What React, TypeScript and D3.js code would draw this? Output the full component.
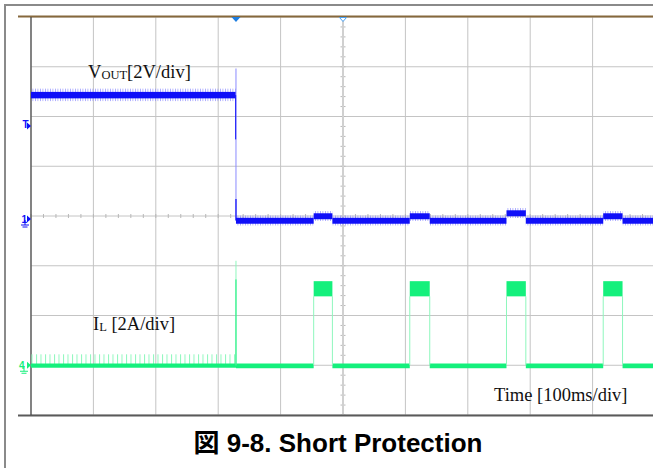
import * as d3 from "d3"

// time axis: 100 ms/div, 10 div
const timeTicks = d3.range(0, 1001, 100)
// vertical: 8 div
const rowTicks = d3.range(0, 9)

// trace events (ms)
const shortTime = 328.5
const hiccupStarts = [453, 607, 762, 917]
const hiccupEnds = [483, 639, 793, 948]

// VOUT levels (V), 2 V/div
const voutHigh = 4.98
const voutShorted = -0.06
const voutBumps = [0.12, 0.12, 0.24, 0.12]
const voutSpikePeak = 6.05

// IL levels (A), 2 A/div
const ilIdle = 0
const ilRipplePeak = 0.44
const ilPulseTop = 3.38
const ilPulseBottom = 2.77
const ilSpikePeak = 4.2
const ilSpikeBright = 3.45

const W = 653
const H = 468
const left = 31
const right = 655
const top = 17
const bottom = 415
const divH = (bottom - top) / 8

const BLUE = "#0f0ff8"
const BLUE_LIGHT = "#8a8aff"
const GREEN = "#14f07c"
const GREEN_LIGHT = "#8ef7bd"

export default function App() {
  const x = d3.scaleLinear().domain([0, 1000]).range([left, right])
  const row = d3.scaleLinear().domain([0, 8]).range([top, bottom])
  const gndV = row(4) + 3
  const gndI = row(7)
  const yV = d3.scaleLinear().domain([0, 2]).range([gndV, gndV - divH])
  const yI = d3.scaleLinear().domain([0, 2]).range([gndI, gndI - divH])

  // VOUT low segments after the short
  const vSegs: { t0: number; t1: number; v: number }[] = []
  let t = shortTime
  hiccupStarts.forEach((s, i) => {
    vSegs.push({ t0: t, t1: s, v: voutShorted })
    vSegs.push({ t0: s, t1: hiccupEnds[i], v: voutBumps[i] })
    t = hiccupEnds[i]
  })
  vSegs.push({ t0: t, t1: 1000, v: voutShorted })

  const iLow: { t0: number; t1: number }[] = []
  let ti = shortTime
  hiccupStarts.forEach((s, i) => {
    iLow.push({ t0: ti, t1: s })
    ti = hiccupEnds[i]
  })
  iLow.push({ t0: ti, t1: 1000 })

  const cx = x(500)
  const cy = row(4)
  const minor = d3.range(0, 51).map((k) => k / 5)

  return (
    <svg width={W} height={H} style={{ position: "absolute", left: 0, top: 0, background: "#fff" }}>
      <defs>
        <pattern id="fuzzB" width="2.5" height="10" patternUnits="userSpaceOnUse">
          <rect x="0" y="0" width="0.8" height="10" fill={BLUE_LIGHT} opacity="0.8" />
        </pattern>
        <pattern id="fuzzG" width="4.5" height="12" patternUnits="userSpaceOnUse">
          <rect x="0" y="0" width="1" height="12" fill={GREEN_LIGHT} />
        </pattern>
        <clipPath id="plotClip">
          <rect x={left} y={top} width={W - left} height={bottom - top} />
        </clipPath>
      </defs>

      {/* outer frame */}
      <line x1={5} x2={W} y1={5} y2={5} stroke="#8a8a8a" strokeWidth={2} />
      <line x1={5} x2={5} y1={4} y2={H} stroke="#8a8a8a" strokeWidth={2} />

      {/* grid */}
      <g stroke="#c4c4c4" strokeWidth={1}>
        {timeTicks.map((d) => (
          <line key={"v" + d} x1={x(d)} x2={x(d)} y1={top} y2={bottom} />
        ))}
        {rowTicks.map((d) => (
          <line key={"h" + d} x1={left} x2={W} y1={row(d)} y2={row(d)} />
        ))}
      </g>
      <g stroke="#b8b8b8" strokeWidth={1}>
        {minor.map((k) => (
          <line key={"mx" + k} x1={x(k * 100)} x2={x(k * 100)} y1={cy - 2} y2={cy + 2} />
        ))}
        {d3.range(0, 41).map((k) => (
          <line key={"my" + k} x1={cx - 2.5} x2={cx + 2.5} y1={row(k / 5)} y2={row(k / 5)} />
        ))}
      </g>
      <line x1={cx} x2={cx} y1={top} y2={bottom} stroke="#d0d0d0" strokeWidth={2} />

      {/* plot border */}
      <line x1={18} x2={W} y1={top - 0.5} y2={top - 0.5} stroke="#86683c" strokeWidth={2} />
      <line x1={18} x2={W} y1={bottom + 0.5} y2={bottom + 0.5} stroke="#5a5a5a" strokeWidth={2} />
      <line x1={left} x2={left} y1={top} y2={bottom} stroke="#444" strokeWidth={1.2} />

      <g clipPath="url(#plotClip)">
        {/* IL trace */}
        <rect x={x(0)} y={yI(ilRipplePeak)} width={x(shortTime) - x(0)} height={yI(ilIdle) - yI(ilRipplePeak)} fill="url(#fuzzG)" />
        <rect x={x(0)} y={yI(ilIdle + 0.07)} width={x(shortTime) - x(0)} height={yI(-0.1) - yI(0.07)} fill={GREEN} />
        {iLow.map((s, i) => (
          <rect key={"il" + i} x={x(s.t0)} y={yI(ilIdle + 0.07)} width={x(s.t1) - x(s.t0)} height={yI(-0.12) - yI(0.07)} fill={GREEN} />
        ))}
        <line x1={x(shortTime)} x2={x(shortTime)} y1={yI(ilSpikePeak)} y2={yI(ilIdle)} stroke={GREEN_LIGHT} strokeWidth={1} />
        <line x1={x(shortTime)} x2={x(shortTime)} y1={yI(ilSpikeBright)} y2={yI(ilIdle)} stroke={GREEN} strokeWidth={1} />
        {hiccupStarts.map((s, i) => (
          <g key={"p" + i}>
            <line x1={x(s)} x2={x(s)} y1={yI(ilPulseBottom)} y2={yI(ilIdle)} stroke={GREEN_LIGHT} strokeWidth={1} />
            <line x1={x(hiccupEnds[i])} x2={x(hiccupEnds[i])} y1={yI(ilPulseBottom)} y2={yI(ilIdle)} stroke={GREEN_LIGHT} strokeWidth={1} />
            <rect x={x(s)} y={yI(ilPulseTop)} width={x(hiccupEnds[i]) - x(s)} height={yI(ilPulseBottom) - yI(ilPulseTop)} fill={GREEN} />
          </g>
        ))}

        {/* VOUT trace */}
        <rect x={x(0)} y={yV(voutHigh + 0.26)} width={x(shortTime) - x(0)} height={yV(voutHigh - 0.24) - yV(voutHigh + 0.26)} fill="url(#fuzzB)" />
        <rect x={x(0)} y={yV(voutHigh + 0.13)} width={x(shortTime) - x(0)} height={yV(voutHigh - 0.13) - yV(voutHigh + 0.13)} fill={BLUE} />
        <line x1={x(shortTime)} x2={x(shortTime)} y1={yV(voutSpikePeak)} y2={yV(voutShorted)} stroke={BLUE_LIGHT} strokeWidth={1} />
        <line x1={x(shortTime) - 0.3} x2={x(shortTime) - 0.3} y1={yV(voutHigh)} y2={yV(3.2)} stroke={BLUE} strokeWidth={1} />
        <line x1={x(shortTime)} x2={x(shortTime)} y1={yV(0.8)} y2={yV(voutShorted)} stroke={BLUE} strokeWidth={1.2} />
        {vSegs.map((s, i) => (
          <g key={"v" + i}>
            <rect x={x(s.t0)} y={yV(s.v + 0.2)} width={x(s.t1) - x(s.t0)} height={yV(s.v - 0.2) - yV(s.v + 0.2)} fill="url(#fuzzB)" />
            <rect x={x(s.t0)} y={yV(s.v + 0.11)} width={x(s.t1) - x(s.t0)} height={yV(s.v - 0.13) - yV(s.v + 0.11)} fill={BLUE} />
          </g>
        ))}
      </g>

      {/* top markers */}
      <path d={`M${x(shortTime) - 4.5},${top} L${x(shortTime) + 4.5},${top} L${x(shortTime)},${top + 5} Z`} fill="#1e7ee0" />
      <path d={`M${cx - 3.5},${top + 0.5} L${cx + 3.5},${top + 0.5} L${cx},${top + 4.5} Z`} fill="#fff" stroke="#4aa0f0" strokeWidth={1} />

      {/* channel markers */}
      <g fontFamily="Liberation Sans, Arial, sans-serif" fontSize={10} fontWeight="bold">
        <text x={22.5} y={row(2.2) + 2} fill={BLUE}>T</text>
        <path d={`M${left - 4},${row(2.2) - 4} L${left},${row(2.2) - 0.5} L${left - 4},${row(2.2) + 3} Z`} fill={BLUE} />
        <text x={21.5} y={gndV + 4} fill={BLUE}>1</text>
        <path d={`M${left - 4},${gndV - 3.5} L${left},${gndV} L${left - 4},${gndV + 3.5} Z`} fill={BLUE} />
        <path d={`M${25},${gndV + 1} V${gndV + 6} M${21},${gndV + 6} H${29} M${22.5},${gndV + 8} H${27.5}`} stroke={BLUE} strokeWidth={1} fill="none" />
        <text x={19} y={gndI + 4} fill={GREEN}>4</text>
        <path d={`M${left - 4},${gndI - 3.5} L${left},${gndI} L${left - 4},${gndI + 3.5} Z`} fill={GREEN} />
        <path d={`M${24},${gndI + 1} V${gndI + 6} M${20},${gndI + 6} H${28} M${21.5},${gndI + 8} H${26.5}`} stroke={GREEN} strokeWidth={1} fill="none" />
      </g>

      {/* labels */}
      <g fontFamily="Liberation Serif, Times New Roman, serif" fill="#111">
        <text x={88} y={78} fontSize={18.5}>
          V<tspan fontSize={12.5} dy={1}>OUT</tspan><tspan dy={-1}>[2V/div]</tspan>
        </text>
        <text x={93} y={330} fontSize={18.5}>
          I<tspan fontSize={12.5} dy={1}>L</tspan><tspan dy={-1}> [2A/div]</tspan>
        </text>
        <text x={494} y={401} fontSize={18.5}>Time [100ms/div]</text>
      </g>

      <text x={338} y={452} textAnchor="middle" fontFamily="Liberation Sans, Arial, 'Noto Sans CJK JP', sans-serif" fontWeight="bold" fontSize={26} fill="#000">
        図 9-8. Short Protection
      </text>
    </svg>
  )
}
